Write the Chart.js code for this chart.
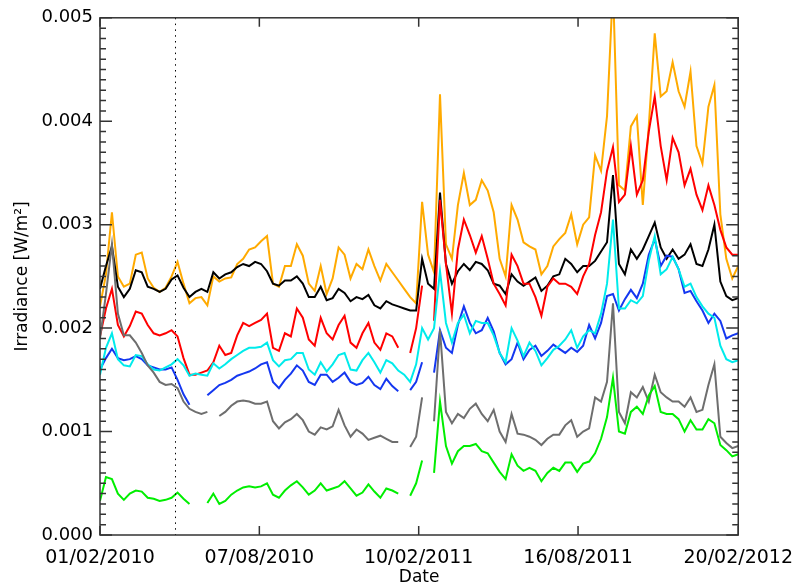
<!DOCTYPE html>
<html><head><meta charset="utf-8">
<script src="https://cdn.jsdelivr.net/npm/chart.js@4.4.0/dist/chart.umd.min.js"></script>
<style>html,body{margin:0;padding:0;background:#fff;}canvas{display:block;}</style>
</head><body>
<canvas id="c" width="805" height="588"></canvas>
<script>
// days since 01/02/2010 (weekly samples)
const days = [0,7,14,21,28,35,42,49,56,63,70,77,84,91,98,105,112,119,126,133,140,147,154,161,168,175,182,189,196,203,210,217,224,231,238,245,252,259,266,273,280,287,294,301,308,315,322,329,336,343,350,357,364,371,378,385,392,399,406,413,420,427,434,441,448,455,462,469,476,483,490,497,504,511,518,525,532,539,546,553,560,567,574,581,588,595,602,609,616,623,630,637,644,651,658,665,672,679,686,693,700,707,714,721,728,735,742,749];
const tickDays = [0,187,374,561,749];
const tickLabels = ['01/02/2010','07/08/2010','10/02/2011','16/08/2011','20/02/2012'];
const yTicks = [0,0.001,0.002,0.003,0.004,0.005];
const markerDay = 88;

const orange = [0.00221,0.00252,0.00312,0.00250,0.00240,0.00243,0.00271,0.00273,0.00248,0.00239,0.00235,0.00239,0.00250,0.00264,0.00243,0.00224,0.00229,0.00230,0.00222,0.00250,0.00245,0.00248,0.00249,0.00262,0.00267,0.00276,0.00278,0.00284,0.00289,0.00243,0.00240,0.00260,0.00260,0.00281,0.00270,0.00243,0.00236,0.00260,0.00233,0.00248,0.00278,0.00271,0.00248,0.00262,0.00257,0.00276,0.00260,0.00246,0.00262,0.00254,0.00246,0.00238,0.00230,0.00224,0.00322,0.00271,0.00254,0.00426,0.00281,0.00267,0.00319,0.00350,0.00319,0.00324,0.00343,0.00333,0.00312,0.00267,0.00250,0.00319,0.00305,0.00283,0.00279,0.00276,0.00252,0.00260,0.00279,0.00286,0.00292,0.00310,0.00281,0.00300,0.00307,0.00367,0.00352,0.00405,0.00530,0.00338,0.00333,0.00395,0.00405,0.00319,0.00395,0.00485,0.00424,0.00429,0.00457,0.00429,0.00414,0.00448,0.00376,0.00359,0.00414,0.00435,0.00310,0.00267,0.00248,0.00260];
const black = [0.00238,0.00260,0.00279,0.00240,0.00230,0.00238,0.00256,0.00254,0.00240,0.00238,0.00235,0.00238,0.00247,0.00251,0.00239,0.00230,0.00235,0.00238,0.00235,0.00254,0.00248,0.00252,0.00254,0.00259,0.00262,0.00260,0.00264,0.00262,0.00255,0.00243,0.00241,0.00246,0.00246,0.00250,0.00243,0.00230,0.00230,0.00240,0.00227,0.00229,0.00238,0.00234,0.00226,0.00230,0.00228,0.00232,0.00222,0.00219,0.00226,0.00223,0.00221,0.00219,0.00217,0.00217,0.00267,0.00243,0.00238,0.00331,0.00262,0.00243,0.00255,0.00262,0.00256,0.00264,0.00262,0.00256,0.00243,0.00241,0.00233,0.00252,0.00245,0.00241,0.00245,0.00249,0.00236,0.00241,0.00250,0.00252,0.00267,0.00262,0.00254,0.00260,0.00260,0.00265,0.00274,0.00283,0.00348,0.00262,0.00252,0.00276,0.00267,0.00276,0.00289,0.00302,0.00278,0.00267,0.00276,0.00267,0.00271,0.00281,0.00262,0.00260,0.00276,0.00300,0.00245,0.00231,0.00227,0.00229];
const red = [0.00192,0.00219,0.00238,0.00203,0.00192,0.00202,0.00216,0.00214,0.00203,0.00195,0.00193,0.00195,0.00198,0.00192,0.00171,0.00155,0.00155,0.00157,0.00159,0.00167,0.00183,0.00174,0.00176,0.00193,0.00205,0.00202,0.00205,0.00208,0.00214,0.00181,0.00178,0.00195,0.00192,0.00219,0.00210,0.00189,0.00183,0.00210,0.00195,0.00189,0.00203,0.00212,0.00186,0.00181,0.00195,0.00205,0.00186,0.00179,0.00195,0.00192,0.00181,null,0.00176,0.00200,0.00241,null,0.00207,0.00324,0.00262,0.00214,0.00276,0.00305,0.00290,0.00273,0.00289,0.00267,0.00243,0.00233,0.00222,0.00271,0.00260,0.00243,0.00243,0.00230,0.00212,0.00240,0.00248,0.00243,0.00243,0.00240,0.00233,0.00250,0.00262,0.00290,0.00312,0.00352,0.00375,0.00322,0.00329,0.00376,0.00329,0.00343,0.00390,0.00424,0.00376,0.00343,0.00384,0.00370,0.00338,0.00354,0.00329,0.00314,0.00338,0.00319,0.00295,0.00278,0.00271,0.00271];
const cyan = [0.00155,0.00181,0.00195,0.00170,0.00164,0.00163,0.00174,0.00173,0.00165,0.00160,0.00159,0.00162,0.00165,0.00170,0.00164,0.00154,0.00156,0.00155,0.00154,0.00166,0.00161,0.00165,0.00170,0.00174,0.00178,0.00181,0.00181,0.00182,0.00186,0.00169,0.00163,0.00169,0.00170,0.00176,0.00176,0.00160,0.00155,0.00167,0.00158,0.00165,0.00174,0.00176,0.00160,0.00159,0.00169,0.00176,0.00167,0.00157,0.00169,0.00166,0.00159,0.00155,0.00148,0.00165,0.00200,0.00189,0.00200,0.00255,0.00205,0.00186,0.00205,0.00213,0.00195,0.00207,0.00205,0.00205,0.00193,0.00176,0.00167,0.00200,0.00188,0.00173,0.00186,0.00178,0.00164,0.00171,0.00179,0.00183,0.00189,0.00198,0.00181,0.00192,0.00198,0.00195,0.00214,0.00243,0.00305,0.00219,0.00219,0.00227,0.00224,0.00231,0.00265,0.00289,0.00252,0.00257,0.00269,0.00257,0.00240,0.00243,0.00230,0.00221,0.00214,0.00210,0.00183,0.00170,0.00167,0.00169];
const blue = [0.00160,0.00171,0.00180,0.00171,0.00169,0.00170,0.00173,0.00170,0.00164,0.00162,0.00160,0.00160,0.00162,0.00150,0.00136,0.00126,null,null,0.00135,0.00140,0.00145,0.00147,0.00150,0.00154,0.00156,0.00158,0.00161,0.00165,0.00167,0.00148,0.00142,0.00150,0.00156,0.00164,0.00159,0.00148,0.00145,0.00155,0.00155,0.00148,0.00152,0.00157,0.00148,0.00145,0.00147,0.00153,0.00145,0.00141,0.00151,0.00144,0.00139,null,0.00140,0.00148,0.00167,null,0.00157,0.00198,0.00181,0.00176,0.00203,0.00221,0.00205,0.00195,0.00198,0.00210,0.00197,0.00176,0.00165,0.00170,0.00186,0.00170,0.00179,0.00183,0.00173,0.00178,0.00184,0.00180,0.00176,0.00181,0.00177,0.00183,0.00203,0.00190,0.00205,0.00231,0.00233,0.00217,0.00228,0.00237,0.00229,0.00243,0.00271,0.00286,0.00260,0.00270,0.00269,0.00257,0.00234,0.00236,0.00226,0.00217,0.00205,0.00214,0.00207,0.00190,0.00193,0.00195];
const gray = [0.00190,0.00233,0.00281,0.00214,0.00193,0.00193,0.00186,0.00176,0.00164,0.00157,0.00148,0.00145,0.00146,0.00142,0.00129,0.00122,0.00119,0.00117,0.00119,null,0.00115,0.00119,0.00125,0.00129,0.00130,0.00129,0.00127,0.00127,0.00129,0.00110,0.00103,0.00109,0.00112,0.00117,0.00111,0.00100,0.00097,0.00104,0.00102,0.00105,0.00121,0.00106,0.00095,0.00102,0.00098,0.00092,0.00094,0.00096,0.00093,0.00090,0.00090,null,0.00085,0.00095,0.00133,null,0.00110,0.00198,0.00119,0.00108,0.00117,0.00113,0.00122,0.00127,0.00117,0.00110,0.00121,0.00100,0.00090,0.00117,0.00098,0.00097,0.00095,0.00092,0.00087,0.00093,0.00097,0.00097,0.00106,0.00111,0.00095,0.00100,0.00103,0.00133,0.00129,0.00148,0.00224,0.00119,0.00108,0.00138,0.00133,0.00143,0.00129,0.00155,0.00138,0.00133,0.00129,0.00129,0.00124,0.00133,0.00119,0.00121,0.00145,0.00165,0.00095,0.00089,0.00084,0.00086];
const green = [0.00033,0.00056,0.00054,0.00040,0.00034,0.00040,0.00043,0.00042,0.00036,0.00035,0.00033,0.00034,0.00036,0.00041,0.00035,0.00030,null,null,0.00031,0.00040,0.00030,0.00033,0.00039,0.00043,0.00046,0.00047,0.00046,0.00047,0.00050,0.00039,0.00036,0.00043,0.00048,0.00052,0.00046,0.00039,0.00043,0.00050,0.00043,0.00045,0.00047,0.00052,0.00045,0.00038,0.00041,0.00049,0.00042,0.00036,0.00045,0.00043,0.00040,null,0.00038,0.00050,0.00072,null,0.00060,0.00129,0.00086,0.00069,0.00081,0.00086,0.00086,0.00088,0.00081,0.00079,0.00070,0.00061,0.00054,0.00078,0.00067,0.00062,0.00065,0.00062,0.00052,0.00060,0.00065,0.00062,0.00070,0.00070,0.00061,0.00069,0.00071,0.00079,0.00093,0.00114,0.00152,0.00100,0.00098,0.00119,0.00124,0.00117,0.00135,0.00144,0.00119,0.00117,0.00117,0.00112,0.00100,0.00111,0.00102,0.00102,0.00112,0.00108,0.00087,0.00082,0.00076,0.00078];

const toXY = arr => days.map((d, i) => ({x: d, y: arr[i]}));
const mk = (arr, color) => ({
  data: toXY(arr), borderColor: color, backgroundColor: color,
  borderWidth: 2, pointRadius: 0, tension: 0, spanGaps: false, fill: false
});

const framePlugin = {
  id: 'frame',
  afterDatasetsDraw(chart) {
    const {ctx, chartArea: a, scales: {x, y}} = chart;
    ctx.save();
    // dotted marker line
    const mx = Math.round(x.getPixelForValue(markerDay)) + 0.5;
    ctx.strokeStyle = '#000'; ctx.lineWidth = 1; ctx.setLineDash([1.5, 4.3]);
    ctx.beginPath(); ctx.moveTo(mx, a.top); ctx.lineTo(mx, a.bottom); ctx.stroke();
    ctx.setLineDash([]);
    // frame
    ctx.strokeStyle = '#333'; ctx.lineWidth = 1.5;
    ctx.strokeRect(a.left, a.top, a.right - a.left, a.bottom - a.top);
    // y ticks (major + minor), left and right
    ctx.beginPath();
    for (let i = 0; i <= 50; i++) {
      const py = y.getPixelForValue(i / 10000);
      const len = (i % 10 === 0) ? 12 : 6;
      ctx.moveTo(a.left, py); ctx.lineTo(a.left + len, py);
      ctx.moveTo(a.right, py); ctx.lineTo(a.right - len, py);
    }
    // x ticks, bottom and top
    tickDays.forEach(d => {
      const px = x.getPixelForValue(d);
      ctx.moveTo(px, a.bottom); ctx.lineTo(px, a.bottom - 9);
      ctx.moveTo(px, a.top); ctx.lineTo(px, a.top + 9);
    });
    ctx.stroke();
    ctx.restore();
  }
};

new Chart(document.getElementById('c'), {
  type: 'line',
  data: {
    datasets: [
      mk(green, 'rgb(0,238,0)'),
      mk(gray, 'rgb(110,110,110)'),
      mk(cyan, 'rgb(0,235,235)'),
      mk(blue, 'rgb(20,55,240)'),
      mk(red, 'rgb(255,0,0)'),
      mk(black, 'rgb(0,0,0)'),
      mk(orange, 'rgb(255,170,0)')
    ]
  },
  options: {
    responsive: false, animation: false, devicePixelRatio: 1,
    layout: {padding: {top: 10, right: 62, left: 0, bottom: 0}},
    plugins: {legend: {display: false}, tooltip: {enabled: false}},
    scales: {
      x: {
        type: 'linear', min: 0, max: 749,
        afterBuildTicks: s => { s.ticks = tickDays.map(v => ({value: v})); },
        afterFit: s => { s.height = 53; },
        grid: {display: false, drawTicks: false}, border: {display: false},
        ticks: {
          autoSkip: false, maxRotation: 0, padding: 12, color: '#000',
          font: {family: 'DejaVu Sans', size: 19},
          callback: (v, i) => tickLabels[i]
        },
        title: {display: true, text: 'Date', color: '#000', padding: {top: 0, bottom: 0},
                font: {family: 'DejaVu Sans', size: 17}}
      },
      y: {
        type: 'linear', min: 0, max: 0.005,
        afterBuildTicks: s => { s.ticks = yTicks.map(v => ({value: v})); },
        afterFit: s => { s.width = 100; },
        grid: {display: false, drawTicks: false}, border: {display: false},
        ticks: {
          padding: 7, color: '#000',
          font: {family: 'DejaVu Sans', size: 18},
          callback: v => v.toFixed(3)
        },
        title: {display: true, text: 'Irradiance [W/m²]', color: '#000', padding: {top: 12, bottom: 0},
                font: {family: 'DejaVu Sans', size: 17}}
      }
    }
  },
  plugins: [framePlugin]
});
</script>
</body></html>
